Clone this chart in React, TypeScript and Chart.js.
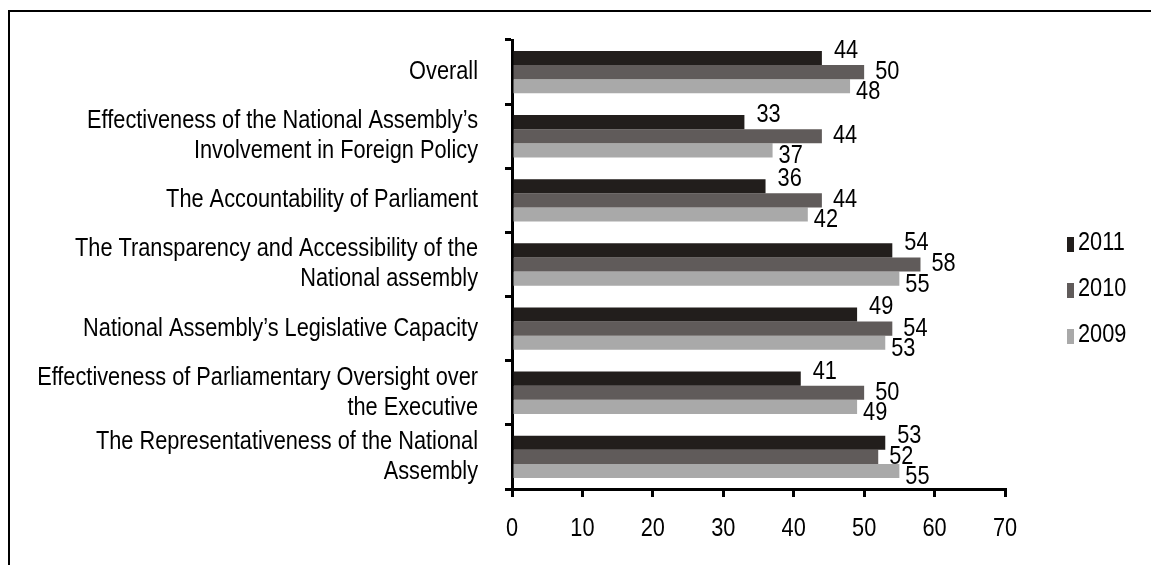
import React, { useEffect, useRef } from 'react';
import { Chart, registerables } from 'chart.js';

Chart.register(...registerables);

const categories: (string | string[])[] = [
  'Overall',
  ['Effectiveness of the National Assembly’s', 'Involvement in Foreign Policy'],
  'The Accountability of Parliament',
  ['The Transparency and Accessibility of the', 'National assembly'],
  'National Assembly’s Legislative Capacity',
  ['Effectiveness of Parliamentary Oversight over', 'the Executive'],
  ['The Representativeness of the National', 'Assembly'],
];

const seriesNames = ['2011', '2010', '2009'];
const values2011 = [44, 33, 36, 54, 49, 41, 53];
const values2010 = [50, 44, 44, 58, 54, 50, 52];
const values2009 = [48, 37, 42, 55, 53, 49, 55];
const xMin = 0;
const xMax = 70;
const xStep = 10;

const colors = ['#221e1c', '#605b5a', '#a9a9a9'];
const FONT = '"Liberation Sans", Arial, sans-serif';
const FONT_SIZE = 25;
const NARROW = 0.87;
const LINE_H = 30;

const labelOffsets = [
  { dx: 12, dy: -6 },
  { dx: 11, dy: 1 },
  { dx: 6, dy: 7 },
];

function narrowText(ctx: CanvasRenderingContext2D, text: string, x: number, y: number, align: CanvasTextAlign) {
  ctx.save();
  ctx.translate(x, y);
  ctx.scale(NARROW, 1);
  ctx.textAlign = align;
  ctx.textBaseline = 'middle';
  ctx.fillText(text, 0, 0);
  ctx.restore();
}

const textPlugin = {
  id: 'narrowText',
  afterDraw(chart: any) {
    const ctx: CanvasRenderingContext2D = chart.ctx;
    ctx.save();
    ctx.font = `${FONT_SIZE}px ${FONT}`;
    ctx.fillStyle = '#000';

    // y axis category labels
    const ys = chart.scales.y;
    ys.ticks.forEach((_t: any, i: number) => {
      const raw = chart.data.labels[ys.ticks[i].value];
      const lines: string[] = Array.isArray(raw) ? raw : [String(raw)];
      const py = ys.getPixelForTick(i);
      const startY = py - ((lines.length - 1) * LINE_H) / 2;
      lines.forEach((ln, k) => {
        narrowText(ctx, ln, ys.right - 7 - 27, startY + k * LINE_H, 'right');
      });
    });

    // x axis tick labels
    const xs = chart.scales.x;
    xs.ticks.forEach((t: any, i: number) => {
      const px = xs.getPixelForTick(i);
      narrowText(ctx, String(t.value), px, xs.top + 40, 'center');
    });

    // data labels
    chart.data.datasets.forEach((ds: any, i: number) => {
      const meta = chart.getDatasetMeta(i);
      meta.data.forEach((el: any, j: number) => {
        const o = labelOffsets[i];
        narrowText(ctx, String(ds.data[j]), el.x + o.dx, el.y + o.dy - 1, 'left');
      });
    });

    // legend
    const area = chart.chartArea;
    const lx = area.right + 62;
    const midY = (area.top + area.bottom) / 2 + 26;
    const gap = 46;
    chart.data.datasets.forEach((ds: any, i: number) => {
      const y = midY + (i - 1) * gap;
      ctx.fillStyle = ds.backgroundColor;
      ctx.fillRect(lx, y - 7.5, 7, 15);
      ctx.fillStyle = '#000';
      narrowText(ctx, ds.label, lx + 11, y - 1, 'left');
    });
    ctx.restore();
  },
};

export default function App() {
  const canvasRef = useRef<HTMLCanvasElement | null>(null);

  useEffect(() => {
    const canvas = canvasRef.current;
    if (!canvas) return;
    const seriesValues = [values2011, values2010, values2009];
    const chart = new Chart(canvas, {
      type: 'bar',
      data: {
        labels: categories,
        datasets: seriesNames.map((name, i) => ({
          label: name,
          data: seriesValues[i],
          backgroundColor: colors[i],
          borderWidth: 0,
          categoryPercentage: 0.66,
          barPercentage: 1.0,
        })),
      },
      options: {
        indexAxis: 'y',
        responsive: false,
        animation: false,
        devicePixelRatio: 1,
        layout: { padding: { top: 40, right: 146, left: 0, bottom: 0 } },
        plugins: {
          legend: { display: false },
          tooltip: { enabled: false },
          title: { display: false },
        },
        scales: {
          x: {
            min: xMin,
            max: xMax,
            ticks: { stepSize: xStep, display: false },
            grid: {
              drawOnChartArea: false,
              drawTicks: true,
              tickLength: 8,
              color: '#000',
              lineWidth: 3,
            },
            border: { display: true, color: '#000', width: 3 },
            afterFit: (scale: any) => {
              scale.height = 76;
              scale.paddingLeft = 0;
              scale.paddingRight = 0;
            },
          },
          y: {
            ticks: { display: false, autoSkip: false },
            grid: {
              offset: true,
              drawOnChartArea: false,
              drawTicks: true,
              tickLength: 7,
              color: '#000',
              lineWidth: 3,
            },
            border: { display: true, color: '#000', width: 3 },
            afterFit: (scale: any) => {
              scale.width = 512;
              scale.paddingTop = 0;
              scale.paddingBottom = 0;
            },
          },
        },
      },
      plugins: [textPlugin],
    });
    return () => chart.destroy();
  }, []);

  return (
    <div style={{ position: 'fixed', left: 0, top: 0, width: 1151, height: 565, background: '#fff', overflow: 'hidden' }}>
      <div
        style={{
          position: 'absolute',
          left: 8,
          top: 10,
          width: 1143,
          height: 555,
          borderTop: '2.5px solid #000',
          borderLeft: '2.5px solid #000',
          boxSizing: 'border-box',
        }}
      />
      <canvas
        ref={canvasRef}
        width={1151}
        height={565}
        style={{ position: 'absolute', left: 0, top: 0, width: 1151, height: 565 }}
      />
    </div>
  );
}
